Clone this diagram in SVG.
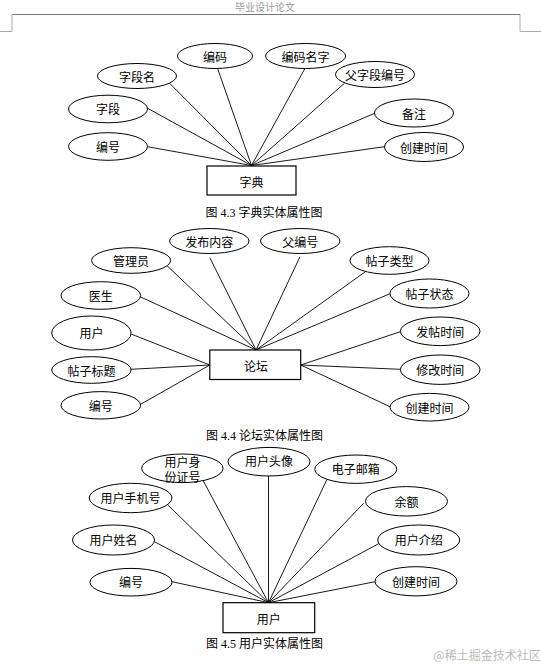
<svg xmlns="http://www.w3.org/2000/svg" width="541" height="664" viewBox="0 0 541 664">
<style>
.e{fill:#fff;stroke:#000;stroke-width:1}
.r{fill:#fff;stroke:#000;stroke-width:1.2}
.t{font-family:"Noto Sans CJK SC","Noto Sans",sans-serif;font-size:12px;fill:#000;text-anchor:middle;dominant-baseline:central}
.cap{font-family:"Liberation Serif","Noto Sans CJK SC",serif;font-size:12px;fill:#000;text-anchor:middle;dominant-baseline:central}
.c line{stroke:#000;stroke-width:0.9}
</style>
<rect x="0" y="0" width="541" height="664" fill="#fff"/>
<g id="header">
<text x="265" y="6" font-family="Noto Sans CJK SC, sans-serif" font-size="10" fill="#999" text-anchor="middle" dominant-baseline="central">毕业设计论文</text>
<line x1="12" y1="14.5" x2="520" y2="14.5" stroke="#777" stroke-width="1"/>
<polyline points="12,14.5 12,31.5 0,31.5" fill="none" stroke="#aaa" stroke-width="1"/>
<polyline points="520,14.5 520,31.5 541,31.5" fill="none" stroke="#aaa" stroke-width="1"/>
</g>

<!-- Diagram 4.3 -->
<g class="c" id="connectors-43">
<line x1="251.5" y1="165.5" x2="147.6" y2="146.7"/>
<line x1="251.5" y1="165.5" x2="147.6" y2="108.3"/>
<line x1="251.5" y1="165.5" x2="169.6" y2="83.3"/>
<line x1="251.5" y1="165.5" x2="217.5" y2="68.3"/>
<line x1="251.5" y1="165.5" x2="305" y2="68.3"/>
<line x1="251.5" y1="165.5" x2="344.4" y2="83.3"/>
<line x1="251.5" y1="165.5" x2="374.8" y2="113.3"/>
<line x1="251.5" y1="165.5" x2="384.6" y2="146.7"/>
</g>
<g id="n43-bianma"><ellipse class="e" cx="215" cy="56" rx="37.5" ry="12.5"/><text class="t" x="215" y="56">编码</text></g>
<g id="n43-bianmamingzi"><ellipse class="e" cx="305.6" cy="56" rx="40" ry="12.5"/><text class="t" x="305.6" y="56">编码名字</text></g>
<g id="n43-ziduanming"><ellipse class="e" cx="137" cy="76" rx="39.5" ry="12.5"/><text class="t" x="137" y="76">字段名</text></g>
<g id="n43-fuziduanbianhao"><ellipse class="e" cx="375" cy="74.5" rx="39.5" ry="13"/><text class="t" x="375" y="74.5">父字段编号</text></g>
<g id="n43-ziduan"><ellipse class="e" cx="108" cy="109" rx="39.5" ry="13.8"/><text class="t" x="108" y="108">字段</text></g>
<g id="n43-beizhu"><ellipse class="e" cx="414" cy="113" rx="39.5" ry="14"/><text class="t" x="414" y="113">备注</text></g>
<g id="n43-bianhao"><ellipse class="e" cx="108" cy="146.5" rx="39.5" ry="13.8"/><text class="t" x="108" y="146">编号</text></g>
<g id="n43-chuangjian"><ellipse class="e" cx="424" cy="147" rx="39.5" ry="14.5"/><text class="t" x="424" y="147">创建时间</text></g>
<g id="n43-zidian"><rect class="r" x="207" y="166" width="89" height="29"/><text class="t" x="251.5" y="181">字典</text></g>
<text class="cap" x="264" y="213">图 4.3  字典实体属性图</text>

<!-- Diagram 4.4 -->
<g class="c" id="connectors-44">
<line x1="256" y1="350" x2="167" y2="265.7"/>
<line x1="256" y1="350" x2="209.8" y2="257.7"/>
<line x1="256" y1="350" x2="300" y2="256.7"/>
<line x1="256" y1="350" x2="365.4" y2="271.7"/>
<line x1="256" y1="350" x2="140" y2="296.7"/>
<line x1="256" y1="350" x2="390.5" y2="293.5"/>
<line x1="209.8" y1="365" x2="131" y2="334"/>
<line x1="209.8" y1="365" x2="131" y2="369.3"/>
<line x1="209.8" y1="365" x2="140.6" y2="404.3"/>
<line x1="300.7" y1="365" x2="400.3" y2="331.7"/>
<line x1="300.7" y1="365" x2="400.3" y2="369.3"/>
<line x1="300.7" y1="365" x2="390" y2="406.7"/>
</g>
<g id="n44-fabuneirong"><ellipse class="e" cx="209.3" cy="241" rx="39.7" ry="12.5"/><text class="t" x="209.3" y="241">发布内容</text></g>
<g id="n44-fubianhao"><ellipse class="e" cx="300.2" cy="241" rx="39.7" ry="12.5"/><text class="t" x="300.2" y="241">父编号</text></g>
<g id="n44-guanliyuan"><ellipse class="e" cx="131.1" cy="260.5" rx="39.5" ry="12.8"/><text class="t" x="131.1" y="260">管理员</text></g>
<g id="n44-tiezileixing"><ellipse class="e" cx="389.5" cy="260.5" rx="39.5" ry="13.8"/><text class="t" x="389.5" y="260">帖子类型</text></g>
<g id="n44-yisheng"><ellipse class="e" cx="100.8" cy="295.5" rx="39.8" ry="13.8"/><text class="t" x="100.8" y="295">医生</text></g>
<g id="n44-tiezizhuangtai"><ellipse class="e" cx="429.5" cy="293.5" rx="39.5" ry="14.5"/><text class="t" x="429.5" y="293.5">帖子状态</text></g>
<g id="n44-yonghu"><ellipse class="e" cx="91.4" cy="333" rx="39.7" ry="17"/><text class="t" x="91.4" y="332">用户</text></g>
<g id="n44-fatieshijian"><ellipse class="e" cx="440.2" cy="331.3" rx="39.8" ry="14.3"/><text class="t" x="440.2" y="331">发帖时间</text></g>
<g id="n44-tiezibiaoti"><ellipse class="e" cx="91.4" cy="370" rx="39.7" ry="13.3"/><text class="t" x="91.4" y="370">帖子标题</text></g>
<g id="n44-xiugaishijian"><ellipse class="e" cx="440.2" cy="369.7" rx="39.8" ry="14.7"/><text class="t" x="440.2" y="369.5">修改时间</text></g>
<g id="n44-bianhao"><ellipse class="e" cx="100.8" cy="405.3" rx="39.8" ry="13.7"/><text class="t" x="100.8" y="405">编号</text></g>
<g id="n44-chuangjian"><ellipse class="e" cx="429.5" cy="407.2" rx="39.5" ry="13.8"/><text class="t" x="429.5" y="407">创建时间</text></g>
<g id="n44-luntan"><rect class="r" x="209.8" y="350" width="90.9" height="29.5"/><text class="t" x="256" y="365">论坛</text></g>
<text class="cap" x="264.5" y="436">图 4.4  论坛实体属性图</text>

<!-- Diagram 4.5 -->
<g class="c" id="connectors-45">
<line x1="268.5" y1="602.7" x2="172" y2="581.7"/>
<line x1="268.5" y1="602.7" x2="154.5" y2="541.7"/>
<line x1="268.5" y1="602.7" x2="167.8" y2="505"/>
<line x1="268.5" y1="602.7" x2="202.8" y2="480"/>
<line x1="268.5" y1="602.7" x2="268.5" y2="476"/>
<line x1="268.5" y1="602.7" x2="327" y2="479.3"/>
<line x1="268.5" y1="602.7" x2="363.6" y2="503.3"/>
<line x1="268.5" y1="602.7" x2="379.4" y2="543.3"/>
<line x1="268.5" y1="602.7" x2="375.2" y2="581.7"/>
</g>
<g id="n45-shenfenzheng"><ellipse class="e" cx="182.4" cy="468.3" rx="40.7" ry="14.3"/><text class="t" x="182.4" y="461" font-size="11.5">用户身</text><text class="t" x="182.4" y="476.5" font-size="11.5">份证号</text></g>
<g id="n45-touxiang"><ellipse class="e" cx="269" cy="461.7" rx="41" ry="14.3"/><text class="t" x="269" y="460.7">用户头像</text></g>
<g id="n45-youxiang"><ellipse class="e" cx="355.8" cy="469.2" rx="41" ry="14.2"/><text class="t" x="355.8" y="468.5">电子邮箱</text></g>
<g id="n45-shouji"><ellipse class="e" cx="130.6" cy="498" rx="41.4" ry="14.7"/><text class="t" x="130.6" y="497.5">用户手机号</text></g>
<g id="n45-yue"><ellipse class="e" cx="406.5" cy="501.3" rx="41" ry="14.7"/><text class="t" x="406.5" y="501">余额</text></g>
<g id="n45-xingming"><ellipse class="e" cx="113.5" cy="540" rx="41" ry="15"/><text class="t" x="113.5" y="539.5">用户姓名</text></g>
<g id="n45-jieshao"><ellipse class="e" cx="418.7" cy="540" rx="41" ry="15"/><text class="t" x="418.7" y="539.5">用户介绍</text></g>
<g id="n45-bianhao"><ellipse class="e" cx="131" cy="582.2" rx="41" ry="13.8"/><text class="t" x="131" y="581.5">编号</text></g>
<g id="n45-chuangjian"><ellipse class="e" cx="416" cy="581.3" rx="41" ry="14.6"/><text class="t" x="416" y="581">创建时间</text></g>
<g id="n45-yonghu"><rect class="r" x="223" y="602.7" width="91.7" height="30"/><text class="t" x="268.8" y="618">用户</text></g>
<text class="cap" x="264.5" y="643.5">图 4.5  用户实体属性图</text>

<text x="487" y="654" font-family="Noto Sans CJK SC, sans-serif" font-size="12" fill="#bbb" text-anchor="middle" dominant-baseline="central">@稀土掘金技术社区</text>
</svg>
